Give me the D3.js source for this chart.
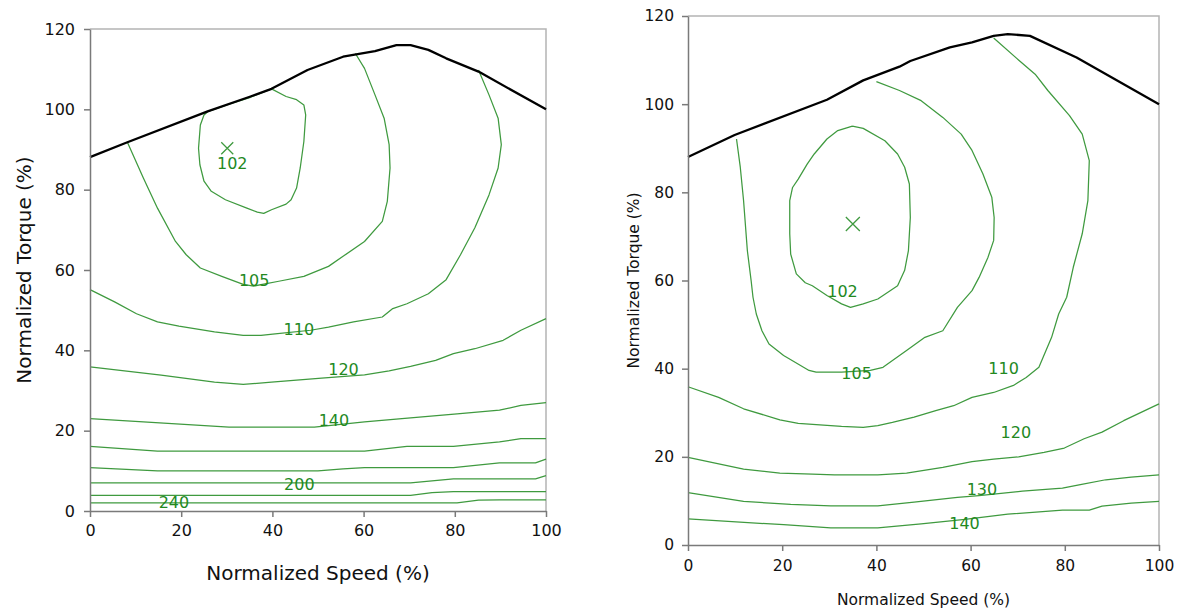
<!DOCTYPE html>
<html>
<head>
<meta charset="utf-8">
<script src="https://cdn.jsdelivr.net/npm/d3@7"></script>
<style>
  html, body { margin: 0; padding: 0; background: #fff; }
  svg { display: block; }
  text { font-family: "DejaVu Sans", Verdana, sans-serif; }
</style>
</head>
<body>
<svg id="chart" width="1178" height="610"></svg>
<script>
// ---------- Axis ticks ----------
const speedTicks = [0, 20, 40, 60, 80, 100];
const torqueTicks = [0, 20, 40, 60, 80, 100, 120];

// ---------- Left map: full-load torque curve [speed %, torque %] ----------
const leftFullLoad = [[0,88.1],[8.2,91.8],[25.8,99.5],[35.2,103.2],[39.8,105.1],[47.7,109.8],
  [55.5,113.1],[62.5,114.5],[67.2,116.0],[70.3,116.0],[74.2,114.8],[78.1,112.7],[85.2,109.4],[100,100]];

// Left map efficiency-ratio contours
const left102 = [[39.8,105.1],[43.0,103.2],[45.3,102.4],[46.9,101.1],[47.3,98.6],[46.9,92.0],[46.1,85.4],
  [45.3,80.4],[44.1,77.5],[43.0,76.4],[39.8,75.0],[38.1,74.1],[36.7,74.4],[34.4,75.4],[29.7,77.5],
  [26.6,79.6],[25.0,82.1],[24.1,86.2],[23.8,90.3],[24.2,96.1],[25.0,98.6],[25.8,99.4],[30.5,101.3],
  [35.2,103.0],[39.8,105.1]];
const left105 = [[8.2,91.8],[11.7,82.9],[14.8,75.4],[18.75,67.1],[21.1,63.8],[24.2,60.5],[28.9,58.4],
  [33.6,56.4],[35.9,56.0],[41.4,57.2],[46.9,58.4],[52.3,60.9],[55.5,63.4],[60.2,67.1],[64.1,72.1],
  [65.2,77.1],[65.8,85.4],[65.6,91.2],[64.5,97.8],[62.5,103.6],[60.2,110.2],[58.2,113.9]];
const left110 = [[85.2,109.8],[87.5,103.6],[89.5,97.8],[90.2,91.2],[89.5,85.4],[87.5,78.7],[84.4,70.5],
  [81.25,63.8],[78.1,57.6],[74.2,54.1],[69.5,51.6],[66.4,50.4],[64.1,48.3],[57.8,47.1],[52.3,45.8],
  [48.4,45.0],[40.6,44.1],[37.5,43.7],[33.6,43.7],[27.3,44.6],[19.5,46.0],[14.8,47.1],[10.2,49.1],
  [5.5,52.0],[0,55.1]];
const left120 = [[0,35.9],[15.6,33.8],[27.3,32.1],[33.6,31.5],[39.8,32.1],[50.8,33.1],[60.2,33.9],
  [65.6,34.9],[70.3,36.0],[75.8,37.5],[79.7,39.2],[84.4,40.4],[90.6,42.5],[94.5,45.0],[100,47.9]];
const left140 = [[0,23.0],[11.7,22.2],[30.5,20.9],[49.2,20.9],[60.2,22.2],[70.3,23.2],[80.5,24.2],
  [89.8,25.1],[94.5,26.3],[100,27.0]];
const left160 = [[0,16.1],[14.8,14.9],[60.2,14.9],[69.5,16.1],[79.7,16.1],[89.8,17.2],[94.5,18.0],[100,18.0]];
const left180 = [[0,10.8],[14.8,10.0],[50,10.0],[55.5,10.5],[60.2,10.8],[79.7,10.8],[89.8,12.0],[97.7,12.0],[100,12.9]];
const left200 = [[0,7.0],[70.3,7.0],[79.7,8.0],[97.7,8.0],[100,8.8]];
const left220 = [[0,3.9],[70.3,3.9],[75,4.6],[79.7,4.8],[100,4.8]];
const left240 = [[0,2.0],[80.5,2.0],[85.2,2.7],[89.8,2.8],[100,2.8]];

// Contour labels: value and where it is written [speed, torque]
const leftLabels = [
  { value: 102, at: [31.2, 86.4] },
  { value: 105, at: [36.0, 57.4] },
  { value: 110, at: [45.8, 45.3] },
  { value: 120, at: [55.6, 35.3] },
  { value: 140, at: [53.5, 22.5] },
  { value: 200, at: [45.9, 6.7] },
  { value: 240, at: [18.4, 2.1] }
];
const leftOptimum = [30.1, 90.3];

// ---------- Right map ----------
const rightFullLoad = [[0,88.0],[9.9,93.0],[29.5,101.0],[37.2,105.4],[44.9,108.5],[47.2,109.8],
  [55.6,112.9],[60.3,114.0],[64.9,115.5],[67.9,115.9],[72.6,115.5],[82.5,110.6],[100,100]];

const right102 = [[34.9,95.0],[37.2,94.5],[41.8,91.7],[44.5,88.7],[46.0,85.7],[47.0,81.9],[47.2,74.3],
  [46.8,66.8],[46.0,62.3],[44.5,58.8],[40.3,55.8],[37.2,54.7],[34.5,53.9],[32.6,54.7],[29.5,56.6],
  [26.4,58.8],[24.9,59.5],[23.0,61.5],[21.8,66.0],[21.6,70.6],[21.6,78.1],[22.2,81.1],[23.4,83.0],
  [25.3,86.4],[26.8,88.7],[29.5,92.1],[31.8,94.0],[34.9,95.0]];
const right105 = [[40.0,105.1],[44.9,103.1],[49.5,100.8],[54.1,97.0],[58.0,93.2],[60.3,89.5],[62.6,84.2],
  [64.5,78.9],[65.0,74.3],[64.9,69.1],[63.7,65.3],[61.8,60.7],[60.3,57.7],[57.2,53.9],[54.1,48.6],
  [50.3,47.1],[46.4,44.1],[41.4,40.3],[38.7,39.6],[32.6,39.2],[27.2,39.2],[25.7,39.6],[20.3,43.0],
  [17.2,45.6],[15.7,48.6],[14.5,52.4],[13.8,56.2],[13.4,60.0],[12.6,66.8],[11.8,78.1],[11.1,85.7],[10.3,92.1]];
const right110 = [[64.9,115.0],[70.3,109.9],[73.7,106.8],[76.4,103.1],[81.0,97.4],[83.7,93.2],[85.2,87.2],
  [84.9,78.1],[83.7,70.6],[81.8,63.0],[80.4,56.2],[78.7,52.4],[77.2,47.1],[74.5,40.3],
  [71.8,38.0],[69.1,36.2],[64.9,34.6],[60.3,33.5],[56.4,31.6],[52.6,30.5],[48.0,29.0],[43.4,27.8],
  [40.3,27.1],[37.2,26.7],[32.6,26.9],[23.4,27.6],[19.5,28.4],[11.8,30.9],[6.5,33.5],[0,35.9]];
const right120 = [[0,19.9],[11.8,17.2],[19.5,16.3],[26.4,16.1],[31.1,15.9],[40.3,15.9],[46.4,16.3],
  [54.1,17.6],[60.3,18.9],[64.9,19.5],[70.2,20.0],[75.6,21.0],[79.9,22.0],[84.1,24.1],[87.9,25.6],
  [92.5,28.2],[100,32.0]];
const right130 = [[0,11.9],[11.8,9.9],[21.8,9.2],[30.3,8.9],[40.3,8.9],[48.0,9.7],[57.2,10.8],[61.8,11.2],
  [71.0,12.2],[79.5,12.9],[83.3,13.7],[88.7,14.8],[94.1,15.4],[100,15.9]];
const right140 = [[0,5.9],[20.3,4.6],[30.3,3.9],[40.3,3.9],[49.5,4.8],[58.8,5.8],[67.9,7.0],[79.5,7.9],
  [85.2,7.9],[87.9,8.8],[94.1,9.5],[100,9.9]];

const rightLabels = [
  { value: 102, at: [32.8, 57.6] },
  { value: 105, at: [35.8, 38.9] },
  { value: 110, at: [67.0, 40.0] },
  { value: 120, at: [69.6, 25.5] },
  { value: 130, at: [62.4, 12.7] },
  { value: 140, at: [58.7, 4.8] }
];
const rightOptimum = [35.0, 72.8];

// ---------- Drawing ----------
const svg = d3.select("#chart");
const GREEN_LINE = "#3f9a3f";
const GREEN_TEXT = "#23891f";

function drawMap(cfg) {
  const x = d3.scaleLinear().domain([0, 100]).range([cfg.left, cfg.right]);
  const y = d3.scaleLinear().domain([0, 120]).range([cfg.bottom, cfg.top]);
  const g = svg.append("g");

  // light frame on top and right
  g.append("path")
    .attr("d", `M${x(0)},${y(120)}H${x(100)}V${y(0)}`)
    .attr("fill", "none").attr("stroke", "#b4b4b4").attr("stroke-width", 1.5);

  const line = d3.line().x(d => x(d[0])).y(d => y(d[1])).curve(d3.curveLinear);

  cfg.contours.forEach(c => {
    g.append("path").datum(c)
      .attr("d", line).attr("fill", "none")
      .attr("stroke", GREEN_LINE).attr("stroke-width", 1.25)
      .attr("stroke-linejoin", "round");
  });

  g.append("path").datum(cfg.fullLoad)
    .attr("d", line).attr("fill", "none")
    .attr("stroke", "#000").attr("stroke-width", 2.3)
    .attr("stroke-linejoin", "round");

  // axes
  const xAxis = g.append("g").attr("transform", `translate(0,${y(0)})`)
    .call(d3.axisBottom(x).tickValues(speedTicks).tickSize(6).tickPadding(cfg.xPad).tickSizeOuter(0));
  const yAxis = g.append("g").attr("transform", `translate(${x(0)},0)`)
    .call(d3.axisLeft(y).tickValues(torqueTicks).tickSize(6).tickPadding(cfg.yPad).tickSizeOuter(0));
  [xAxis, yAxis].forEach(a => {
    a.select(".domain").attr("stroke", "#7a7a7a").attr("stroke-width", 1.5);
    a.selectAll(".tick line").attr("stroke", "#7a7a7a").attr("stroke-width", 1.5);
    a.selectAll(".tick text").attr("fill", "#111")
      .style("font-family", '"DejaVu Sans", Verdana, sans-serif')
      .style("font-size", cfg.tickFont + "px");
  });

  // labels
  g.selectAll(".clabel").data(cfg.labels).join("text")
    .attr("x", d => x(d.at[0])).attr("y", d => y(d.at[1]))
    .attr("text-anchor", "middle").attr("dominant-baseline", "central")
    .attr("fill", GREEN_TEXT).style("font-size", cfg.labelFont + "px")
    .text(d => d.value);

  // best-efficiency marker
  const ox = x(cfg.optimum[0]), oy = y(cfg.optimum[1]), h = cfg.markSize;
  g.append("path")
    .attr("d", `M${ox - h},${oy - h}L${ox + h},${oy + h}M${ox - h},${oy + h}L${ox + h},${oy - h}`)
    .attr("stroke", GREEN_LINE).attr("stroke-width", 1.3).attr("fill", "none");

  // titles
  g.append("text")
    .attr("x", (cfg.left + cfg.right) / 2).attr("y", cfg.xTitleY)
    .attr("text-anchor", "middle").attr("fill", "#111")
    .style("font-size", cfg.titleFont + "px").text("Normalized Speed (%)");
  g.append("text")
    .attr("transform", `translate(${cfg.yTitleX},${(cfg.top + cfg.bottom) / 2}) rotate(-90)`)
    .attr("text-anchor", "middle").attr("dominant-baseline", "central").attr("fill", "#111")
    .style("font-size", cfg.titleFont + "px").text("Normalized Torque (%)");
}

drawMap({
  left: 90, right: 546, top: 29, bottom: 511,
  contours: [left102, left105, left110, left120, left140, left160, left180, left200, left220, left240],
  fullLoad: leftFullLoad, labels: leftLabels, optimum: leftOptimum,
  tickFont: 16, labelFont: 16, titleFont: 20, markSize: 6,
  xPad: 8, yPad: 9, xTitleY: 580, yTitleX: 24
});

drawMap({
  left: 688, right: 1159, top: 16, bottom: 545,
  contours: [right102, right105, right110, right120, right130, right140],
  fullLoad: rightFullLoad, labels: rightLabels, optimum: rightOptimum,
  tickFont: 15.5, labelFont: 16, titleFont: 15.5, markSize: 7,
  xPad: 9, yPad: 8, xTitleY: 605, yTitleX: 634
});
</script>
</body>
</html>
